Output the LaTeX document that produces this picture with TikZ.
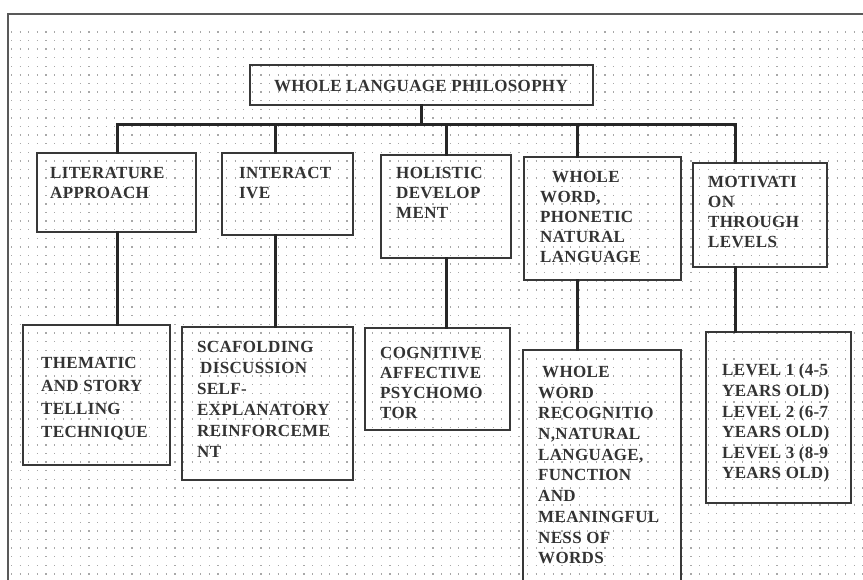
\documentclass[tikz,border=0pt]{standalone}
\usepackage{fontspec}
\setmainfont{Liberation Serif}[LetterSpace=2]
\usetikzlibrary{fit}
\begin{document}
\begin{tikzpicture}[x=1pt,y=-1pt,
  box/.style={draw=black!78, line width=1.8pt, inner sep=0pt},
  conn/.style={draw=black!85, line width=3pt, line cap=rect},
  dotline/.style={draw=black!34, line width=1.4pt, dash pattern=on 1.2pt off 7.4pt},
  frame/.style={draw=black!65, line width=2.6pt},
  txt/.style={align=left, anchor=north west, inner sep=0pt, text=black!80},
  tA/.style={txt, font=\fontsize{17}{20}\selectfont\bfseries},
  tB/.style={txt, font=\fontsize{17}{#1}\selectfont\bfseries}]
\useasboundingbox (0,0) rectangle (863,580);
\fill[white] (0,0) rectangle (863,580);
\begin{scope}
\clip (0,0) rectangle (863,580);
% dotted background
\foreach \j in {0,...,63}{
  \draw[dotline] (11,{32+8.6*\j}) -- (863,{32+8.6*\j});
}
% frame
\draw[frame] (8,582) -- (8,14) -- (863,14);

% root
\node[box, fit={(250,65) (593,105)}] (root) {};
\node[inner sep=0pt, text=black!80, font=\fontsize{17}{20}\selectfont\bfseries] (rootT) at (421,86) {WHOLE LANGUAGE PHILOSOPHY};

% level 1 boxes
\node[box, fit={(37,153) (196,232)}] (lit) {};
\node[box, fit={(222,153) (353,235)}] (inter) {};
\node[box, fit={(381,155) (511,258)}] (hol) {};
\node[box, fit={(524,157) (681,280)}] (ww) {};
\node[box, fit={(693,163) (827,267)}] (mot) {};

\node[tA] (litT) at (50,167) {LITERATURE\\APPROACH};
\node[tA] (interT) at (239,167) {INTERACT\\IVE};
\node[tA] (holT) at (396,167) {HOLISTIC\\DEVELOP\\MENT};
\node[tA] (wwT) at (540,171) {\hspace*{12pt}WHOLE\\WORD,\\PHONETIC\\NATURAL\\LANGUAGE};
\node[tA] (motT) at (708,176) {MOTIVATI\\ON\\THROUGH\\LEVELS};

% level 2 boxes
\node[box, fit={(23,325) (170,465)}] (them) {};
\node[box, fit={(182,327) (353,480)}] (scaf) {};
\node[box, fit={(365,328) (510,430)}] (cog) {};
\node[box, fit={(523,350) (681,600)}] (wwr) {};
\node[box, fit={(706,332) (851,503)}] (lev) {};

\node[tB=23] (themT) at (41,357) {THEMATIC\\AND STORY\\TELLING\\TECHNIQUE};
\node[tB=21] (scafT) at (197,341) {SCAFOLDING\\\hspace*{3pt}DISCUSSION\\SELF-\\EXPLANATORY\\REINFORCEME\\NT};
\node[tB=20] (cogT) at (380,347) {COGNITIVE\\AFFECTIVE\\PSYCHOMO\\TOR};
\node[tB=20.7] (wwrT) at (538,366) {\hspace*{4pt}WHOLE\\WORD\\RECOGNITIO\\N,NATURAL\\LANGUAGE,\\FUNCTION\\AND\\MEANINGFUL\\NESS OF\\WORDS};
\node[tB=20.6] (levT) at (722,364) {LEVEL 1 (4-5\\YEARS OLD)\\LEVEL 2 (6-7\\YEARS OLD)\\LEVEL 3 (8-9\\YEARS OLD)};

% connectors
\coordinate (d1) at (117,125);
\coordinate (d2) at (275,125);
\coordinate (d3) at (446,125);
\coordinate (d4) at (577,125);
\coordinate (d5) at (735,125);
\draw[conn] (d1) -- (d5);
\draw[conn] (root.south) -- (root.south |- d1);
\draw[conn] (d1) -- (d1 |- lit.north);
\draw[conn] (d2) -- (d2 |- inter.north);
\draw[conn] (d3) -- (d3 |- hol.north);
\draw[conn] (d4) -- (d4 |- ww.north);
\draw[conn] (d5) -- (d5 |- mot.north);
\draw[conn] (d1 |- lit.south) -- (d1 |- them.north);
\draw[conn] (d2 |- inter.south) -- (d2 |- scaf.north);
\draw[conn] (d3 |- hol.south) -- (d3 |- cog.north);
\draw[conn] (d4 |- ww.south) -- (d4 |- wwr.north);
\draw[conn] (d5 |- mot.south) -- (d5 |- lev.north);
\end{scope}
\end{tikzpicture}
\end{document}
